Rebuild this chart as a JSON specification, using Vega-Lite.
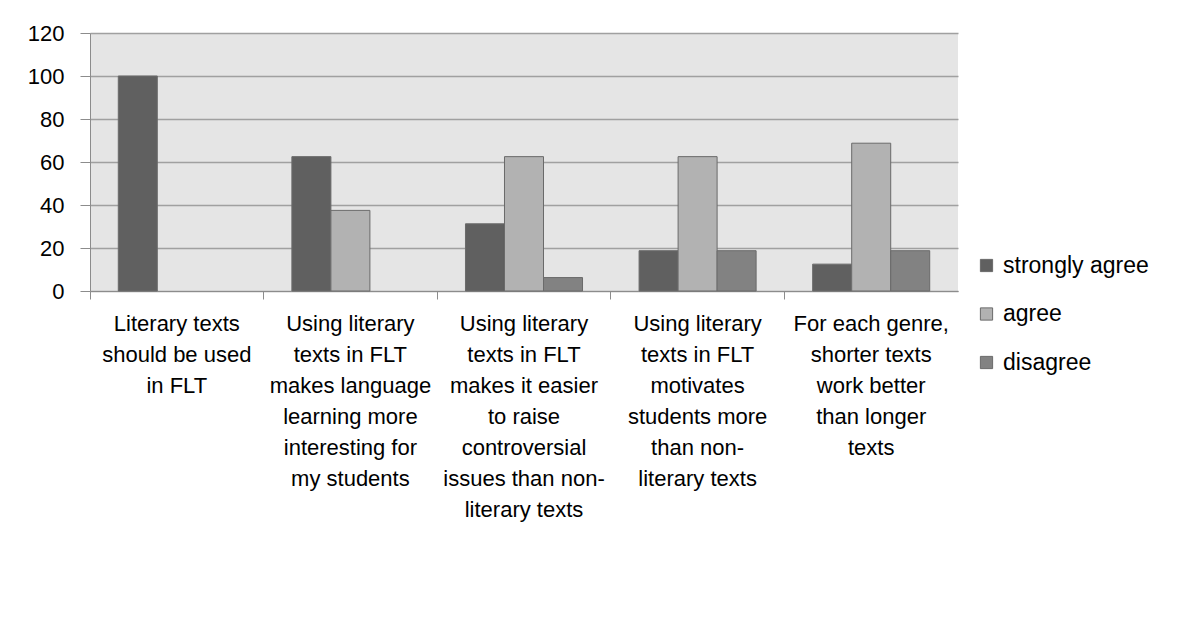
{
  "$schema": "https://vega.github.io/schema/vega-lite/v6.json",
  "width": 868,
  "height": 258,
  "autosize": {"type": "none"},
  "padding": {"left": 90, "top": 33, "right": 229, "bottom": 330},
  "background": "white",
  "config": {
    "view": {"fill": "#e5e5e5", "stroke": null},
    "font": "Liberation Sans"
  },
  "data": {
    "values": [
      {"statement": "Literary texts|should be used|in FLT", "response": "strongly agree", "pct": 100},
      {"statement": "Using literary|texts in FLT|makes language|learning more|interesting for|my students", "response": "strongly agree", "pct": 62.5},
      {"statement": "Using literary|texts in FLT|makes language|learning more|interesting for|my students", "response": "agree", "pct": 37.5},
      {"statement": "Using literary|texts in FLT|makes it easier|to raise|controversial|issues than non-|literary texts", "response": "strongly agree", "pct": 31.25},
      {"statement": "Using literary|texts in FLT|makes it easier|to raise|controversial|issues than non-|literary texts", "response": "agree", "pct": 62.5},
      {"statement": "Using literary|texts in FLT|makes it easier|to raise|controversial|issues than non-|literary texts", "response": "disagree", "pct": 6.25},
      {"statement": "Using literary|texts in FLT|motivates|students more|than non-|literary texts", "response": "strongly agree", "pct": 18.75},
      {"statement": "Using literary|texts in FLT|motivates|students more|than non-|literary texts", "response": "agree", "pct": 62.5},
      {"statement": "Using literary|texts in FLT|motivates|students more|than non-|literary texts", "response": "disagree", "pct": 18.75},
      {"statement": "For each genre,|shorter texts|work better|than longer|texts", "response": "strongly agree", "pct": 12.5},
      {"statement": "For each genre,|shorter texts|work better|than longer|texts", "response": "agree", "pct": 68.75},
      {"statement": "For each genre,|shorter texts|work better|than longer|texts", "response": "disagree", "pct": 18.75}
    ]
  },
  "mark": {"type": "bar", "stroke": "#6a6a6a", "strokeWidth": 1},
  "encoding": {
    "x": {
      "field": "statement",
      "type": "nominal",
      "sort": null,
      "scale": {"paddingInner": 0, "paddingOuter": 0},
      "axis": {
        "title": null,
        "labelAngle": 0,
        "labelExpr": "split(datum.label, '|')",
        "labelFont": "Liberation Sans",
        "labelFontSize": 22,
        "labelLineHeight": 31,
        "labelColor": "#000000",
        "labelBaseline": "top",
        "labelLimit": 0,
        "labelPadding": 14,
        "tickSize": 8,
        "tickColor": "#8c8c8c",
        "domainColor": "#8c8c8c",
        "bandPosition": 0,
        "grid": false
      }
    },
    "xOffset": {
      "field": "response",
      "type": "nominal",
      "sort": ["strongly agree", "agree", "disagree"],
      "scale": {"domain": ["strongly agree", "agree", "disagree"], "paddingInner": 0, "paddingOuter": 0.725}
    },
    "y": {
      "field": "pct",
      "type": "quantitative",
      "scale": {"domain": [0, 120], "nice": false},
      "axis": {
        "title": null,
        "values": [0, 20, 40, 60, 80, 100, 120],
        "labelFont": "Liberation Sans",
        "labelFontSize": 22,
        "labelColor": "#000000",
        "labelPadding": 16,
        "tickSize": 10,
        "tickColor": "#8c8c8c",
        "domainColor": "#8c8c8c",
        "gridColor": "#a0a0a0",
        "gridWidth": 1.5
      }
    },
    "color": {
      "field": "response",
      "type": "nominal",
      "scale": {"domain": ["strongly agree", "agree", "disagree"], "range": ["#606060", "#b2b2b2", "#828282"]},
      "legend": {
        "title": null,
        "orient": "none",
        "legendX": 885,
        "legendY": 221,
        "symbolType": "square",
        "symbolSize": 150,
        "symbolStrokeColor": "#6a6a6a",
        "symbolStrokeWidth": 1,
        "labelFont": "Liberation Sans",
        "labelFontSize": 23,
        "labelLimit": 0,
        "labelColor": "#000000",
        "labelOffset": 5,
        "rowPadding": 24.5
      }
    }
  }
}
